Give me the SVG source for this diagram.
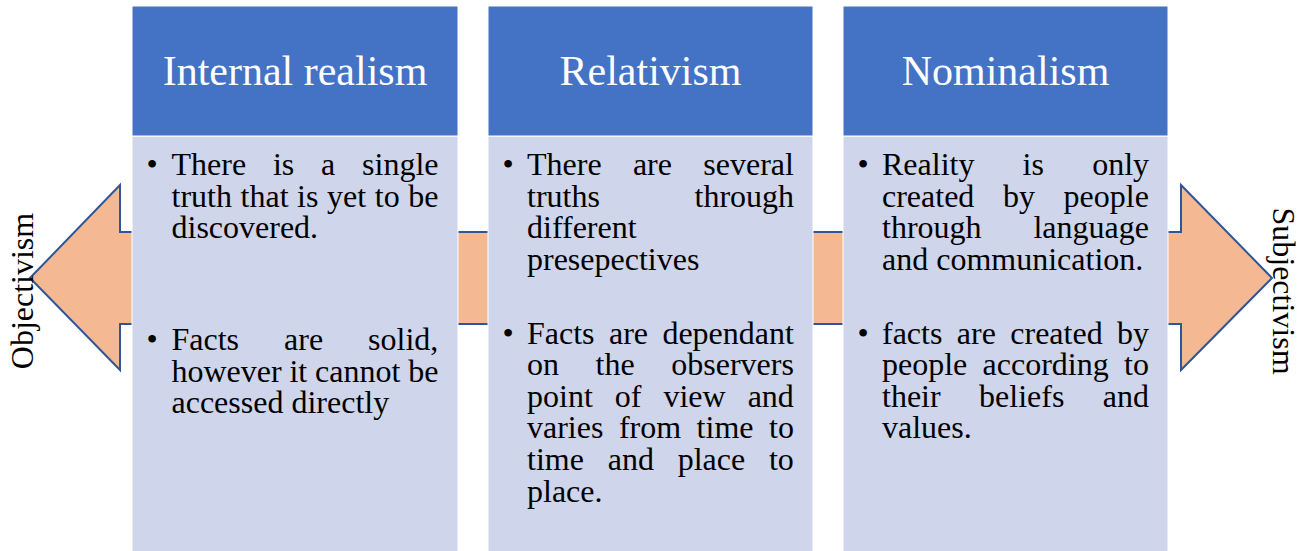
<svg xmlns="http://www.w3.org/2000/svg" width="1305" height="551" viewBox="0 0 1305 551">
  <style>
    .head { fill: #4472C4; stroke: #ffffff; stroke-width: 1; }
    .body { fill: #CFD5EA; stroke: #ffffff; stroke-width: 1; }
    .arrow { fill: #F4B993; stroke: #2F5597; stroke-width: 2; stroke-linejoin: miter; }
  </style>

  <rect width="1305" height="551" fill="#ffffff"/>

  <!-- double-headed arrow running behind the three columns -->
  <g id="connectors">
    <polygon class="arrow" points="30,278 120,185 120,232 1181,232 1181,185 1272,278 1181,370 1181,324 120,324 120,370"/>
  </g>

  <g id="label-objectivism">
    <text font-family="Liberation Serif" font-size="32" text-anchor="middle" transform="translate(33,291) rotate(-90)">Objectivism</text>
  </g>
  <g id="label-subjectivism">
    <text font-family="Liberation Serif" font-size="32" text-anchor="middle" transform="translate(1273,291) rotate(90)">Subjectivism</text>
  </g>

  <!-- column 1 -->
  <g id="internal-realism">
    <rect class="body" x="132" y="136" width="326" height="420"/>
    <rect class="head" x="132" y="6" width="326" height="130"/>
    <text font-family="Liberation Serif" font-size="42" fill="#ffffff" text-anchor="middle" x="295" y="85">Internal realism</text>
    <text font-family="Liberation Serif" font-size="32" text-anchor="middle" x="152" y="175">•</text>
    <text font-family="Liberation Serif" font-size="32" x="171.5" y="175" word-spacing="18.8">There is a single</text>
    <text font-family="Liberation Serif" font-size="32" x="171.5" y="206.6" word-spacing="0.6">truth that is yet to be</text>
    <text font-family="Liberation Serif" font-size="32" x="171.5" y="238.2">discovered.</text>
    <text font-family="Liberation Serif" font-size="32" text-anchor="middle" x="152" y="350">•</text>
    <text font-family="Liberation Serif" font-size="32" x="171.5" y="350" word-spacing="37">Facts are solid,</text>
    <text font-family="Liberation Serif" font-size="32" x="171.5" y="381.6" word-spacing="-0.2">however it cannot be</text>
    <text font-family="Liberation Serif" font-size="32" x="171.5" y="413.2">accessed directly</text>
  </g>

  <!-- column 2 -->
  <g id="relativism">
    <rect class="body" x="488" y="136" width="325" height="420"/>
    <rect class="head" x="488" y="6" width="325" height="130"/>
    <text font-family="Liberation Serif" font-size="42" fill="#ffffff" text-anchor="middle" x="650.5" y="85">Relativism</text>
    <text font-family="Liberation Serif" font-size="32" text-anchor="middle" x="508" y="175">•</text>
    <text font-family="Liberation Serif" font-size="32" x="527" y="175" word-spacing="23.3">There are several</text>
    <text font-family="Liberation Serif" font-size="32" x="527" y="206.6" word-spacing="86.6">truths through</text>
    <text font-family="Liberation Serif" font-size="32" x="527" y="238.2">different</text>
    <text font-family="Liberation Serif" font-size="32" x="527" y="269.8">presepectives</text>
    <text font-family="Liberation Serif" font-size="32" text-anchor="middle" x="508" y="343.5">•</text>
    <text font-family="Liberation Serif" font-size="32" x="527" y="343.5" word-spacing="6.4">Facts are dependant</text>
    <text font-family="Liberation Serif" font-size="32" x="527" y="375.1" word-spacing="28.6">on the observers</text>
    <text font-family="Liberation Serif" font-size="32" x="527" y="406.7" word-spacing="14">point of view and</text>
    <text font-family="Liberation Serif" font-size="32" x="527" y="438.3" word-spacing="7.5">varies from time to</text>
    <text font-family="Liberation Serif" font-size="32" x="527" y="469.9" word-spacing="15.8">time and place to</text>
    <text font-family="Liberation Serif" font-size="32" x="527" y="501.5">place.</text>
  </g>

  <!-- column 3 -->
  <g id="nominalism">
    <rect class="body" x="843" y="136" width="325" height="420"/>
    <rect class="head" x="843" y="6" width="325" height="130"/>
    <text font-family="Liberation Serif" font-size="42" fill="#ffffff" text-anchor="middle" x="1005.5" y="85">Nominalism</text>
    <text font-family="Liberation Serif" font-size="32" text-anchor="middle" x="863" y="175">•</text>
    <text font-family="Liberation Serif" font-size="32" x="882" y="175" word-spacing="40.2">Reality is only</text>
    <text font-family="Liberation Serif" font-size="32" x="882" y="206.6" word-spacing="20.6">created by people</text>
    <text font-family="Liberation Serif" font-size="32" x="882" y="238.2" word-spacing="43.9">through language</text>
    <text font-family="Liberation Serif" font-size="32" x="882" y="269.8">and communication.</text>
    <text font-family="Liberation Serif" font-size="32" text-anchor="middle" x="863" y="343.5">•</text>
    <text font-family="Liberation Serif" font-size="32" x="882" y="343.5" word-spacing="6.4">facts are created by</text>
    <text font-family="Liberation Serif" font-size="32" x="882" y="375.1" word-spacing="7.3">people according to</text>
    <text font-family="Liberation Serif" font-size="32" x="882" y="406.7" word-spacing="30.4">their beliefs and</text>
    <text font-family="Liberation Serif" font-size="32" x="882" y="438.3">values.</text>
  </g>
</svg>
